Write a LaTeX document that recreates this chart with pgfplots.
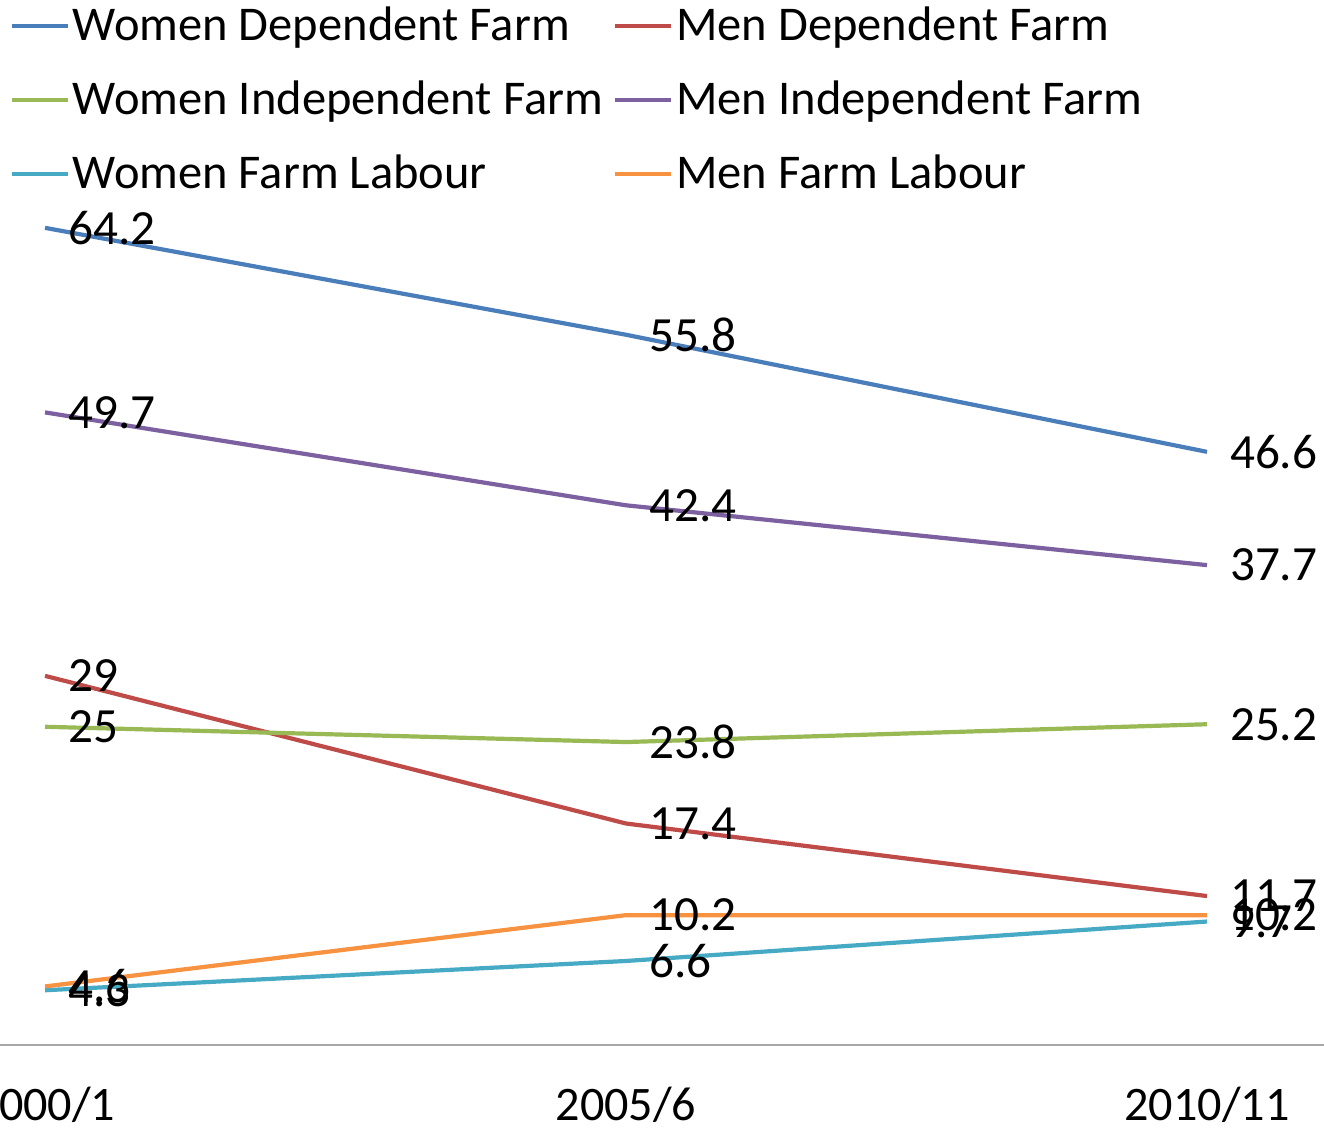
\documentclass[border=0pt]{standalone}
\usepackage{pgfplots}
\pgfplotsset{compat=1.18}
\usepackage{fontspec}
\setmainfont{Carlito}
\definecolor{cBlue}{HTML}{4A7EBB}
\definecolor{cRed}{HTML}{BE4B48}
\definecolor{cGreen}{HTML}{98B954}
\definecolor{cPurple}{HTML}{7D60A0}
\definecolor{cTeal}{HTML}{46AAC5}
\definecolor{cOrange}{HTML}{F69240}
\definecolor{axgray}{HTML}{A6A6A6}
\begin{document}
\begin{tikzpicture}
\begin{axis}[
 scale only axis, width=13.24cm, height=10.45cm,
 xmin=-0.0775, xmax=2.2014, ymin=0, ymax=82.1,
 axis x line=bottom, axis y line=none,
 x axis line style={-, draw=axgray, line width=0.2mm},
 xtick={0,1,2}, xticklabels={2000/1,2005/6,2010/11},
 major tick length=0,
 xticklabel style={font=\fontsize{13.7}{16}\selectfont, yshift=-3mm},
 ytick=\empty,
 clip=false,
 every axis plot/.append style={line width=0.42mm, mark=none},
 nodes near coords,
 nodes near coords style={anchor=west, inner sep=0pt, xshift=2.1mm, font=\fontsize{14}{16}\selectfont, text=black},
 /pgf/number format/assume math mode=true,
 legend columns=2,
 legend cell align=left,
 legend style={at={(0,1)}, anchor=north west, draw=none, fill=none, inner sep=0pt,
   font=\fontsize{13.8}{17}\selectfont, xshift=0.9mm, yshift=0.1mm, row sep=2.1mm,
   /tikz/every odd column/.append style={column sep=-0.4mm},
   /tikz/every even column/.append style={column sep=0.3mm}},
 legend image code/.code={\draw[#1,line width=0.42mm] (0,0) -- (5.6mm,0);},
]
\addplot[cBlue] coordinates {(0,64.2) (1,55.8) (2,46.6)};
\addlegendentry{Women Dependent Farm}
\addplot[cRed] coordinates {(0,29) (1,17.4) (2,11.7)};
\addlegendentry{Men Dependent Farm}
\addplot[cGreen] coordinates {(0,25) (1,23.8) (2,25.2)};
\addlegendentry{Women Independent Farm}
\addplot[cPurple] coordinates {(0,49.7) (1,42.4) (2,37.7)};
\addlegendentry{Men Independent Farm}
\addplot[cTeal] coordinates {(0,4.3) (1,6.6) (2,9.7)};
\addlegendentry{Women Farm Labour}
\addplot[cOrange] coordinates {(0,4.6) (1,10.2) (2,10.2)};
\addlegendentry{Men Farm Labour}
\coordinate (bl) at (rel axis cs:0,0);
\coordinate (tr) at (rel axis cs:1,1);
\end{axis}
\pgfresetboundingbox
\path[use as bounding box] ([yshift=-8.4mm]bl) rectangle (tr);
\end{tikzpicture}
\end{document}
